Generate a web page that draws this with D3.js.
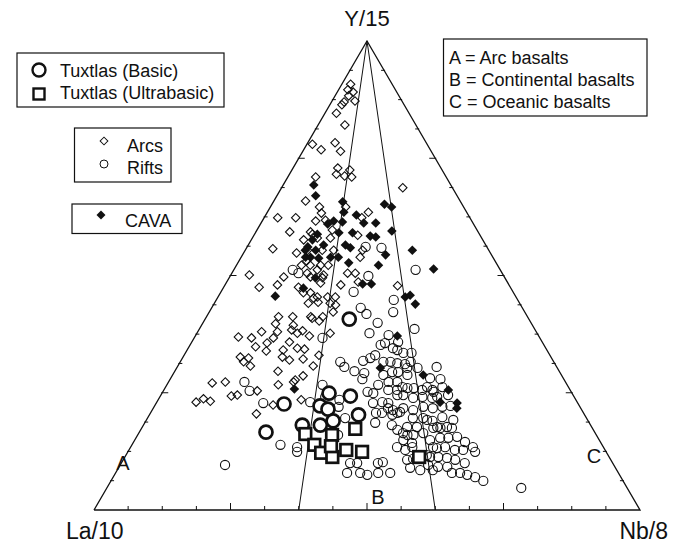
<!DOCTYPE html>
<html>
<head>
<meta charset="utf-8">
<script src="https://cdn.jsdelivr.net/npm/d3@7"></script>
<style>
body { margin: 0; background: #fff; }
text { font-family: "Liberation Sans", Arial, sans-serif; fill: #111; }
</style>
</head>
<body>
<svg id="chart" width="673" height="544"></svg>
<script>
// every point is [Y/15 %, Nb/8 %]; La/10 % = 100 - Y - Nb
const arcs = [
  [90.8,1.6],[89.6,1.7],[89.1,2.9],[88.3,2.5],[87.0,2.3],[87.2,4.2],[86.4,2.2],[84.6,2.1],[82.1,4.9],[78.0,1.0],
  [76.8,3.2],[78.3,5.0],[76.5,6.9],[72.9,8.2],[72.5,10.6],[71.6,8.6],[71.2,10.3],[71.0,11.7],[71.0,5.1],[68.7,22.2],
  [65.9,5.8],[64.6,9.0],[63.3,10.0],[62.3,2.5],[62.3,5.8],[61.6,9.8],[61.8,11.5],[59.3,6.2],[63.5,18.5],[62.3,17.9],
  [59.7,13.8],[58.8,10.6],[58.6,19.0],[64.6,13.8],[57.6,9.6],[58.0,14.3],[55.4,11.4],[55.4,16.2],[55.4,14.1],[55.4,21.5],
  [53.9,21.8],[52.2,13.5],[52.2,15.4],[52.2,16.8],[50.5,13.8],[50.5,21.2],[50.5,22.6],[50.1,17.0],[48.4,17.3],[48.0,21.2],
  [48.6,24.1],[46.3,16.5],[45.2,17.6],[45.4,20.1],[45.4,21.5],[43.7,22.4],[44.1,17.2],[47.8,31.7],[55.7,4.9],[54.8,9.7],
  [58.0,11.9],[59.3,10.0],[50.1,3.4],[47.5,6.5],[48.0,9.6],[49.7,9.9],[53.1,12.4],[52.2,11.9],[49.7,14.8],[51.2,15.3],
  [49.5,17.1],[47.5,13.7],[46.3,15.2],[45.4,18.2],[44.3,18.9],[44.1,21.2],[41.2,13.2],[41.2,15.8],[41.2,19.1],[41.2,21.3],
  [39.7,13.4],[36.9,8.0],[38.0,11.7],[36.7,10.5],[34.8,12.2],[35.6,13.9],[36.7,14.5],[38.0,14.6],[33.9,14.6],[34.1,17.6],
  [32.6,18.2],[32.6,10.5],[32.4,12.1],[31.6,11.6],[30.7,13.3],[29.6,18.9],[26.7,20.4],[27.1,8.1],[27.3,10.4],[25.4,17.2],
  [24.3,13.0],[24.5,14.0],[23.0,7.2],[23.7,8.2],[23.2,9.7],[20.5,19.5],[22.4,21.6],[38.4,17.0],[39.4,16.8],[40.9,19.5],
  [40.3,21.1],[37.7,18.4],[38.2,19.1],[37.1,20.9],[35.8,17.9],[34.5,20.0],[34.3,21.4],[32.0,19.8],[32.2,22.2],[30.7,24.8],
  [33.0,24.7],[27.7,23.0],[28.6,24.0],[27.3,22.9],[23.5,26.2],[37.7,24.4],[42.2,22.7]
];

const rifts = [
  [55.9,24.7],[56.1,21.7],[49.9,25.3],[46.5,24.3],[44.8,32.5],[42.2,33.7],[51.2,33.3],[43.1,27.3],[41.8,29.0],[39.9,32.0],
  [37.7,31.6],[38.6,39.4],[36.7,23.5],[31.6,29.3],[30.5,30.6],[29.6,32.9],[29.2,34.9],[27.9,35.2],[31.8,33.4],[32.4,34.4],
  [33.0,35.0],[35.2,34.9],[35.6,35.5],[37.3,35.3],[35.8,37.8],[34.1,38.5],[33.5,39.9],[33.5,41.4],[31.6,42.2],[31.1,41.4],
  [31.3,39.9],[31.6,38.5],[31.6,37.2],[29.4,39.9],[29.4,41.0],[28.8,43.0],[30.3,44.1],[30.5,47.5],[28.1,47.5],[25.6,49.2],
  [24.1,48.1],[26.0,45.6],[26.0,44.4],[25.6,42.7],[25.6,41.1],[26.7,38.7],[24.9,38.7],[23.0,41.3],[21.7,43.0],[20.7,45.2],
  [21.7,45.8],[21.3,47.8],[22.0,49.3],[21.7,51.2],[24.1,50.8],[20.7,41.3],[18.6,42.2],[18.1,45.5],[19.6,48.6],[19.6,50.5],
  [19.0,52.5],[17.7,54.0],[16.4,48.4],[16.0,50.5],[16.4,52.1],[14.9,54.1],[13.4,48.8],[12.8,50.6],[13.4,51.6],[13.4,55.4],
  [10.9,53.0],[10.7,52.0],[11.3,55.9],[8.5,57.8],[9.6,56.4],[9.0,53.4],[23.5,33.2],[19.6,36.2],[22.0,33.8],[16.0,36.7],
  [24.1,30.3],[26.7,28.5],[23.0,28.1],[22.8,19.6],[13.9,27.2],[13.4,30.5],[12.4,31.0],[10.0,41.9],[10.0,43.2],[7.9,42.4],
  [7.9,44.8],[7.5,46.3],[7.9,48.1],[10.0,47.0],[10.2,47.8],[7.9,50.3],[27.3,13.9],[25.4,15.8],[9.6,19.2],[51.2,10.8],
  [50.5,12.2],[4.7,75.9],[34.5,37.5],[30.3,42.2],[28.8,38.6],[27.3,40.3],[27.3,41.9],[26.2,43.4],[25.6,47.3],[26.2,47.9],
  [27.9,49.5],[26.2,50.7],[24.5,52.6],[25.2,49.6],[25.2,37.5],[24.5,43.3],[24.5,44.4],[23.9,50.0],[23.9,46.5],[22.0,52.8],
  [22.2,54.2],[22.8,39.7],[22.8,42.5],[21.3,44.1],[20.7,42.4],[20.3,44.5],[20.9,45.6],[19.2,51.4],[17.5,53.4],[17.5,54.7],
  [17.7,55.8],[19.2,56.2],[17.5,56.8],[15.6,58.7],[14.5,60.7],[13.4,62.7],[12.4,63.6],[12.8,61.2],[12.8,59.7],[13.4,57.6],
  [13.2,56.2],[15.4,55.7],[15.4,57.2],[11.7,55.1],[11.3,57.4],[11.1,59.1],[10.7,60.8],[10.0,62.9],[7.9,63.1],[7.5,64.6],
  [9.2,60.1],[9.2,58.4],[7.9,61.6],[7.0,66.3],[6.2,68.2],[8.5,55.5],[16.0,49.4],[14.3,51.1],[14.9,49.2],[17.7,50.3],
  [17.7,48.5],[17.1,47.0],[19.8,53.9]
];

const cava = [
  [69.3,5.6],[67.0,7.1],[65.7,12.7],[63.5,14.0],[62.9,16.6],[65.2,20.6],[64.6,22.2],[61.6,13.1],[61.4,14.8],[61.0,12.3],
  [61.2,21.0],[61.2,18.8],[59.5,24.8],[58.4,21.4],[59.1,17.8],[58.8,11.5],[59.1,15.3],[58.2,22.5],[57.6,11.2],[56.1,11.1],
  [56.5,13.8],[56.5,17.8],[55.9,19.0],[55.4,12.9],[53.9,11.8],[53.9,16.4],[53.9,17.8],[53.7,14.3],[54.4,26.2],[55.4,30.6],
  [52.2,26.0],[52.7,20.3],[51.4,36.5],[49.5,15.8],[48.2,25.1],[48.2,26.7],[47.3,14.7],[45.4,34.3],[45.8,35.0],[43.9,36.9],
  [45.6,10.4],[25.8,23.8],[37.1,37.0],[30.3,37.3],[28.8,45.9],[25.6,52.1],[23.0,51.9],[22.8,55.1],[21.7,55.6],[55.4,11.0],
  [53.9,12.7]
];

const tuxBasic = [
  [40.7,26.4],[22.6,23.5],[16.6,23.2],[24.9,30.6],[24.3,34.8],[22.2,30.3],[21.5,32.1],[20.3,38.3],[18.1,29.1],[18.1,32.4],
  [19.0,34.3]
];

const tuxUltra = [
  [16.2,30.6],[16.0,35.6],[17.3,39.2],[13.9,33.4],[12.2,35.5],[11.3,38.0],[12.8,39.8],[12.4,42.9],[11.3,53.9],[13.6,36.6]
];

// field boundaries: lines from the Y/15 apex down to these Nb/8 % on the base
const fieldBase = [37.5, 62.5];
const fieldLabels = [
  { name: "A", y: 10.0, nb: 0.3 },
  { name: "B", y: 2.8, nb: 50.6 },
  { name: "C", y: 11.5, nb: 85.8 }
];
const tickSteps = d3.range(0, 16).map(function (k) { return k * 6.25; });

const legendTux = ["Tuxtlas (Basic)", "Tuxtlas (Ultrabasic)"];
const legendRef = ["Arcs", "Rifts"];
const legendCava = ["CAVA"];
const fieldNotes = ["A = Arc basalts", "B = Continental basalts", "C = Oceanic basalts"];

const svg = d3.select("#chart");

// ternary -> screen through two linear scales
const xScale = d3.scaleLinear().domain([0, 100]).range([94, 640]);
const yScale = d3.scaleLinear().domain([0, 100]).range([510, 41]);
function px(d) { return xScale(d[1] + d[0] / 2); }
function py(d) { return yScale(d[0]); }

const apex = [100, 0], left = [0, 0], right = [0, 100];

// triangle frame
svg.append("path")
  .attr("d", d3.line().x(px).y(py)([left, apex, right, left]))
  .attr("fill", "none").attr("stroke", "#111").attr("stroke-width", 1.3);

// field lines
fieldBase.forEach(function (nb) {
  svg.append("line")
    .attr("x1", px(apex)).attr("y1", py(apex))
    .attr("x2", px([0, nb])).attr("y2", py([0, nb]))
    .attr("stroke", "#111").attr("stroke-width", 1);
});

// ticks, every 1/16 with longer ones every quarter
const ticks = svg.append("g").attr("stroke", "#111").attr("stroke-width", 1);
tickSteps.forEach(function (v, k) {
  if (k === 0) return;
  const len = (k % 4 === 0) ? 7 : 4;
  // base
  ticks.append("line")
    .attr("x1", px([0, v])).attr("y1", py([0, v]))
    .attr("x2", px([0, v])).attr("y2", py([0, v]) - len);
  // left side
  ticks.append("line")
    .attr("x1", px([v, 0]) - 1).attr("y1", py([v, 0]))
    .attr("x2", px([v, 0]) + len - 1).attr("y2", py([v, 0]));
  // right side
  ticks.append("line")
    .attr("x1", px([v, 100 - v]) + 1).attr("y1", py([v, 100 - v]))
    .attr("x2", px([v, 100 - v]) - len + 1).attr("y2", py([v, 100 - v]));
});

// markers
const diamond = d3.symbol().type(d3.symbolSquare);

svg.append("g").selectAll("path").data(arcs).join("path")
  .attr("d", diamond.size(36))
  .attr("transform", function (d) { return "translate(" + px(d) + "," + py(d) + ") rotate(45)"; })
  .attr("fill", "none").attr("stroke", "#111").attr("stroke-width", 1.1);

svg.append("g").selectAll("circle").data(rifts).join("circle")
  .attr("cx", px).attr("cy", py).attr("r", 4.6)
  .attr("fill", "none").attr("stroke", "#111").attr("stroke-width", 1.1);

svg.append("g").selectAll("path").data(cava).join("path")
  .attr("d", d3.symbol().type(d3.symbolSquare).size(46))
  .attr("transform", function (d) { return "translate(" + px(d) + "," + py(d) + ") rotate(45)"; })
  .attr("fill", "#111");

svg.append("g").selectAll("circle").data(tuxBasic).join("circle")
  .attr("cx", px).attr("cy", py).attr("r", 6.5)
  .attr("fill", "#fff").attr("stroke", "#111").attr("stroke-width", 2.7);

svg.append("g").selectAll("rect").data(tuxUltra).join("rect")
  .attr("x", function (d) { return px(d) - 5.8; })
  .attr("y", function (d) { return py(d) - 5.8; })
  .attr("width", 11.6).attr("height", 11.6)
  .attr("fill", "#fff").attr("stroke", "#111").attr("stroke-width", 2.7);

// corner labels
svg.append("text").attr("x", px(apex)).attr("y", 26).attr("text-anchor", "middle")
  .style("font-size", "22px").text("Y/15");
svg.append("text").attr("x", 66).attr("y", 539).style("font-size", "23px").text("La/10");
svg.append("text").attr("x", 668).attr("y", 539).attr("text-anchor", "end")
  .style("font-size", "23px").text("Nb/8");

svg.append("g").selectAll("text").data(fieldLabels).join("text")
  .attr("x", function (d) { return px([d.y, d.nb]); })
  .attr("y", function (d) { return py([d.y, d.nb]) + 7; })
  .attr("text-anchor", "middle")
  .style("font-size", "20px")
  .text(function (d) { return d.name; });

// legends
function box(x, y, w, h) {
  svg.append("rect").attr("x", x).attr("y", y).attr("width", w).attr("height", h)
    .attr("fill", "#fff").attr("stroke", "#111").attr("stroke-width", 1.2);
}

box(17, 53, 207, 54);
svg.append("circle").attr("cx", 39).attr("cy", 70).attr("r", 6.5)
  .attr("fill", "none").attr("stroke", "#111").attr("stroke-width", 2.4);
svg.append("rect").attr("x", 33.5).attr("y", 88.5).attr("width", 11).attr("height", 11)
  .attr("fill", "none").attr("stroke", "#111").attr("stroke-width", 2.4);
legendTux.forEach(function (t, i) {
  svg.append("text").attr("x", 60).attr("y", 76.5 + i * 22.5).style("font-size", "18px").text(t);
});

box(74.5, 128, 96.5, 54);
svg.append("path").attr("d", diamond.size(30))
  .attr("transform", "translate(104,141) rotate(45)")
  .attr("fill", "none").attr("stroke", "#111").attr("stroke-width", 1);
svg.append("circle").attr("cx", 104).attr("cy", 164).attr("r", 4)
  .attr("fill", "none").attr("stroke", "#111").attr("stroke-width", 1);
legendRef.forEach(function (t, i) {
  svg.append("text").attr("x", 127).attr("y", 151.5 + i * 22).style("font-size", "18px").text(t);
});

box(72, 204, 110, 29.5);
svg.append("path").attr("d", d3.symbol().type(d3.symbolSquare).size(40))
  .attr("transform", "translate(101,215) rotate(45)").attr("fill", "#111");
legendCava.forEach(function (t) {
  svg.append("text").attr("x", 125).attr("y", 226.5).style("font-size", "18px").text(t);
});

box(443.5, 39, 203.5, 77);
fieldNotes.forEach(function (t, i) {
  svg.append("text").attr("x", 449).attr("y", 63.5 + i * 22).style("font-size", "18px").text(t);
});
</script>
</body>
</html>
